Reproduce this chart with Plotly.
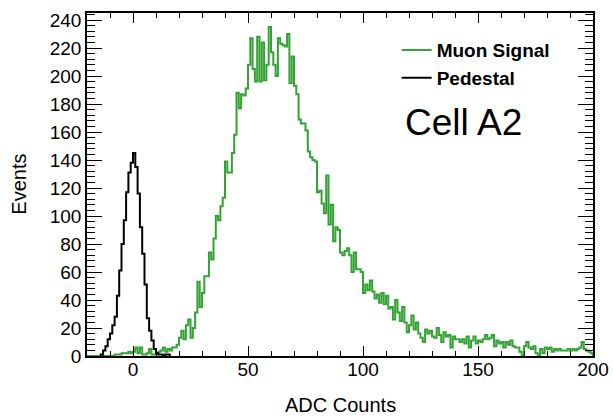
import numpy as np
import plotly.graph_objects as go

# ---- data (counts per 1-ADC bin) ----
bin_width = 1
green_first_edge = -20
green_counts = [
    0, 0, 0, 0, 0, 0, 0, 0, 0, 0, 0, 0,                 # -20..-9
    1, 1, 1, 2, 2, 2, 3, 2,                             # -8..-1
    3, 6, 2, 6, 1, 1, 2, 5, 1, 1,                       # 0..9
    2, 3, 4, 6, 3, 5, 4, 6, 6, 8,                       # 10..19
    13, 18, 12, 22, 26, 13, 20, 31, 53, 35,             # 20..29
    45, 57, 57, 74, 69, 84, 100, 97, 107, 113,          # 30..39
    139, 131, 131, 145, 158, 188, 177, 187, 186, 191,   # 40..49
    208, 227, 205, 196, 228, 196, 224, 197, 208, 235,   # 50..59
    217, 208, 200, 227, 223, 222, 221, 230, 195, 214,   # 60..69
    193, 187, 169, 166, 166, 161, 146, 142, 140, 139,   # 70..79
    117, 118, 109, 102, 129, 94, 108, 82, 92, 90,       # 80..89
    74, 72, 75, 77, 72, 60, 74, 62, 62, 60,             # 90..99
    45, 51, 47, 54, 46, 41, 44, 38, 45, 37,             # 100..109
    43, 34, 35, 26, 40, 31, 25, 35, 24, 17,             # 110..119
    22, 29, 19, 24, 16, 13, 10, 19, 16, 18,             # 120..129
    14, 13, 20, 15, 10, 17, 14, 15, 6, 14,              # 130..139
    12, 12, 10, 12, 9, 14, 6, 11, 14, 9,                # 140..149
    11, 10, 12, 15, 12, 13, 15, 7, 11, 9,               # 150..159
    10, 6, 10, 8, 11, 7, 6, 6, 3, 0,                    # 160..169
    7, 10, 6, 5, 7, 2, 0, 5, 2, 6,                      # 170..179
    5, 6, 3, 5, 4, 5, 4, 4, 4, 5,                       # 180..189
    4, 5, 4, 5, 6, 10, 5, 4, 3, 2,                      # 190..199
]
ped_first_edge = -14
ped_counts = [
    1, 4, 7, 12, 16, 22, 28, 43, 61, 80, 97, 117, 131, 138,   # -14..-1
    145, 135, 116, 92, 73, 51, 27, 18, 11, 5, 2, 1, 1, 0, 1, 1  # 0..15
]
series_names = ["Muon Signal", "Pedestal"]
x_tick_vals = [0, 50, 100, 150, 200]
y_tick_vals = [0, 20, 40, 60, 80, 100, 120, 140, 160, 180, 200, 220, 240]
x_range = [-20, 200]
y_range = [0, 245]

GREEN = "#33a333"
FONT = "Liberation Sans, Arial, Helvetica, sans-serif"


def step_xy(first_edge, counts, width):
    counts = np.asarray(counts, dtype=float)
    edges = first_edge + width * np.arange(len(counts) + 1)
    xs = np.concatenate([[edges[0]], edges, [edges[-1]]])
    ys = np.concatenate([[0.0], counts, [counts[-1]], [0.0]])
    return xs, ys


gx, gy = step_xy(green_first_edge, green_counts, bin_width)
px, py = step_xy(ped_first_edge, ped_counts, bin_width)

fig = go.Figure()
fig.add_trace(go.Scatter(x=gx, y=gy, mode="lines", name=series_names[0],
                         line=dict(color=GREEN, width=2, shape="hv")))
fig.add_trace(go.Scatter(x=px, y=py, mode="lines", name=series_names[1],
                         line=dict(color="black", width=2, shape="hv")))

axis_common = dict(showline=True, linewidth=1.5, linecolor="black", mirror="ticks",
                   showgrid=False, zeroline=False, ticks="inside", tickcolor="black",
                   tickwidth=1, automargin=False)

fig.update_layout(
    width=613, height=418,
    margin=dict(l=87, r=20, t=13, b=62),
    paper_bgcolor="white", plot_bgcolor="white",
    font=dict(family=FONT, size=19, color="black"),
    showlegend=True,
    legend=dict(x=0.612, y=0.947, xanchor="left", yanchor="top",
                bgcolor="rgba(0,0,0,0)", font=dict(family=FONT, size=19, weight="bold"),
                itemwidth=30, tracegroupgap=0),
    xaxis=dict(range=x_range, tickmode="array", tickvals=x_tick_vals, ticklen=10,
               ticklabelstandoff=-5,
               minor=dict(tickmode="linear", tick0=0, dtick=10, ticks="inside",
                          ticklen=5, tickcolor="black", showgrid=False),
               **axis_common),
    yaxis=dict(range=y_range, tickmode="array", tickvals=y_tick_vals, ticklen=15,
               minor=dict(tickmode="linear", tick0=0, dtick=4, ticks="inside",
                          ticklen=8, tickcolor="black", showgrid=False),
               **axis_common),
    annotations=[
        dict(text="Cell A2", xref="paper", yref="paper", x=0.745, y=0.682,
             xanchor="center", yanchor="middle", showarrow=False,
             font=dict(family=FONT, size=37, color="black")),
        dict(text="ADC Counts", xref="paper", yref="paper", x=0.5, y=-0.143,
             xanchor="center", yanchor="middle", showarrow=False,
             font=dict(family=FONT, size=20, color="black")),
        dict(text="Events", xref="paper", yref="paper", x=-0.136, y=0.5,
             xanchor="center", yanchor="middle", showarrow=False, textangle=-90,
             font=dict(family=FONT, size=20, color="black")),
    ],
)

fig.write_html("out.html")
